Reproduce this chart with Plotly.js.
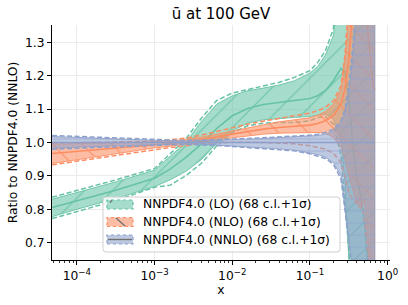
<!DOCTYPE html>
<html>
<head>
<meta charset="utf-8">
<script src="https://cdn.plot.ly/plotly-3.0.1.min.js"></script>
<style>
html,body{margin:0;padding:0;background:#fff;}
#chart{width:408px;height:305px;}
</style>
</head>
<body>
<div id="chart"></div>
<script>
// ---- data ----
var xGrid = [4.8e-5, 1e-4, 3.16e-4, 1e-3, 1.58e-3, 2.51e-3, 3.98e-3, 6.31e-3, 1e-2, 1.58e-2, 2.51e-2, 3.98e-2, 6.31e-2, 0.1, 0.126, 0.158, 0.2, 0.251, 0.282, 0.316, 0.355, 0.398, 0.447, 0.501, 0.562, 0.631, 0.68];

var loCentral = [0.805, 0.825, 0.857, 0.893, 0.92, 0.955, 0.995, 1.042, 1.08, 1.102, 1.114, 1.12, 1.125, 1.132, 1.14, 1.155, 1.185, 1.222, 1.21, 1.13, 1.0, 0.9, 0.845, 0.77, 0.62, 0.5, 0.45];
var loUpper68 = [0.83, 0.85, 0.882, 0.917, 0.958, 1.0, 1.062, 1.115, 1.14, 1.155, 1.163, 1.172, 1.185, 1.208, 1.228, 1.262, 1.32, 1.55, 1.7, 1.8, 1.8, 1.8, 1.8, 1.8, 1.8, 1.8, 1.8];
var loLower68 = [0.778, 0.8, 0.832, 0.868, 0.888, 0.913, 0.948, 0.998, 1.035, 1.058, 1.068, 1.072, 1.075, 1.078, 1.082, 1.085, 1.07, 1.0, 0.88, 0.65, 0.5, 0.4, 0.4, 0.4, 0.4, 0.4, 0.4];
var loUpper1s = [0.836, 0.856, 0.888, 0.922, 0.965, 1.01, 1.072, 1.126, 1.148, 1.158, 1.168, 1.18, 1.195, 1.215, 1.24, 1.275, 1.34, 1.6, 1.8, 1.8, 1.8, 1.8, 1.8, 1.8, 1.8, 1.8, 1.8];
var loLower1s = [0.772, 0.793, 0.826, 0.866, 0.872, 0.9, 0.937, 0.99, 1.03, 1.05, 1.058, 1.06, 1.06, 1.065, 1.075, 1.078, 1.055, 0.96, 0.8, 0.6, 0.5, 0.4, 0.4, 0.4, 0.4, 0.4, 0.4];

var nloCentral = [0.967, 0.973, 0.983, 0.993, 0.997, 1.002, 1.008, 1.016, 1.025, 1.033, 1.04, 1.045, 1.048, 1.052, 1.057, 1.065, 1.08, 1.115, 1.16, 1.25, 1.4, 1.55, 1.6, 1.48, 1.32, 1.2, 1.157];
var nloUpper68 = [0.995, 0.996, 0.999, 1.002, 1.005, 1.009, 1.016, 1.025, 1.035, 1.045, 1.054, 1.062, 1.068, 1.074, 1.082, 1.093, 1.115, 1.16, 1.25, 1.37, 1.6, 1.8, 1.8, 1.8, 1.8, 1.8, 1.8];
var nloLower68 = [0.937, 0.948, 0.966, 0.984, 0.989, 0.995, 1.0, 1.007, 1.014, 1.02, 1.025, 1.028, 1.03, 1.03, 1.03, 1.028, 1.015, 0.985, 0.95, 0.9, 0.86, 0.82, 0.8, 0.83, 0.7, 0.5, 0.4];
var nloUpper1s = [0.998, 0.999, 1.001, 1.004, 1.008, 1.013, 1.022, 1.033, 1.045, 1.055, 1.064, 1.072, 1.08, 1.088, 1.095, 1.105, 1.125, 1.17, 1.26, 1.38, 1.6, 1.8, 1.8, 1.8, 1.8, 1.8, 1.8];
var nloLower1s = [0.933, 0.944, 0.962, 0.98, 0.985, 0.99, 0.998, 1.0, 1.001, 1.001, 1.0, 0.999, 0.996, 0.99, 0.986, 0.98, 0.968, 0.94, 0.9, 0.85, 0.83, 0.818, 0.835, 0.77, 0.66, 0.5, 0.4];

var nnloCentral = [1, 1, 1, 1, 1, 1, 1, 1, 1, 1, 1, 1, 1, 1, 1, 1, 1, 1, 1, 1, 1, 1, 1, 1, 1, 1, 1];
var nnloUpper68 = [1.018, 1.015, 1.01, 1.006, 1.005, 1.004, 1.005, 1.006, 1.008, 1.01, 1.012, 1.014, 1.016, 1.019, 1.021, 1.025, 1.035, 1.06, 1.09, 1.15, 1.25, 1.4, 1.8, 1.8, 1.8, 1.8, 1.8];
var nnloLower68 = [0.983, 0.986, 0.99, 0.994, 0.995, 0.996, 0.995, 0.993, 0.99, 0.987, 0.984, 0.981, 0.977, 0.969, 0.964, 0.956, 0.94, 0.9, 0.81, 0.71, 0.62, 0.5, 0.3, 0.3, 0.3, 0.3, 0.3];
var nnloUpper1s = [1.021, 1.018, 1.013, 1.008, 1.007, 1.006, 1.007, 1.008, 1.01, 1.012, 1.014, 1.016, 1.019, 1.022, 1.025, 1.03, 1.04, 1.065, 1.1, 1.17, 1.28, 1.45, 1.8, 1.8, 1.8, 1.8, 1.8];
var nnloLower1s = [0.98, 0.983, 0.987, 0.992, 0.993, 0.994, 0.993, 0.991, 0.988, 0.985, 0.982, 0.979, 0.975, 0.966, 0.96, 0.952, 0.935, 0.89, 0.8, 0.7, 0.6, 0.48, 0.3, 0.3, 0.3, 0.3, 0.3];

var seriesNames = ["NNPDF4.0 (LO) (68 c.l.+1σ)", "NNPDF4.0 (NLO) (68 c.l.+1σ)", "NNPDF4.0 (NNLO) (68 c.l.+1σ)"];
var xTickVals = [1e-4, 1e-3, 1e-2, 1e-1, 1];
var xTickText = ["10<sup>−4</sup>", "10<sup>−3</sup>", "10<sup>−2</sup>", "10<sup>−1</sup>", "10<sup>0</sup>"];
var yTickVals = [0.7, 0.8, 0.9, 1.0, 1.1, 1.2, 1.3];

// ---- styling ----
var colors = ["#66c2a5", "#fc8d62", "#8da0cb"];
var fills = ["rgba(102,194,165,0.58)", "rgba(252,141,98,0.58)", "rgba(141,160,203,0.58)"];
var hatches = ["/", "\\", "-"];
var hatchSize = [20, 21, 12];
var FONT = "DejaVu Sans, sans-serif";
var FS = 12.3;
var DASH = "5px,2.5px";

var sets = [
  {c: loCentral, u: loUpper68, l: loLower68, u1: loUpper1s, l1: loLower1s},
  {c: nloCentral, u: nloUpper68, l: nloLower68, u1: nloUpper1s, l1: nloLower1s},
  {c: nnloCentral, u: nnloUpper68, l: nnloLower68, u1: nnloUpper1s, l1: nnloLower1s}
];

var traces = [];
sets.forEach(function(s, i) {
  var xr = xGrid.slice().reverse();
  traces.push({
    type: "scatter", mode: "lines",
    x: xGrid.concat(xr), y: s.u.concat(s.l.slice().reverse()),
    fill: "toself", fillcolor: fills[i],
    fillpattern: {shape: hatches[i], fgcolor: colors[i], bgcolor: fills[i], size: hatchSize[i], solidity: 0.05, fgopacity: 1},
    line: {color: colors[i], width: 0.9},
    hoverinfo: "skip", showlegend: false
  });
  traces.push({
    type: "scatter", mode: "lines", x: xGrid, y: s.c,
    line: {color: colors[i], width: 1.6}, hoverinfo: "skip", showlegend: false
  });
  traces.push({
    type: "scatter", mode: "lines", x: xGrid, y: s.u1,
    line: {color: colors[i], width: 1.5, dash: DASH}, hoverinfo: "skip", showlegend: false
  });
  traces.push({
    type: "scatter", mode: "lines", x: xGrid, y: s.l1,
    line: {color: colors[i], width: 1.5, dash: DASH}, hoverinfo: "skip", showlegend: false
  });
});

// minor ticks on log axis
var minorVals = [];
[-5, -4, -3, -2, -1].forEach(function(e) {
  for (var k = 2; k <= 9; k++) minorVals.push(k * Math.pow(10, e));
});

// manual legend (pixel -> paper helpers)
var PL = 52, PR = 390, PT = 25, PB = 260;
function px(v) { return (v - PL) / (PR - PL); }
function py(v) { return (PB - v) / (PB - PT); }

var shapes = [];
var annotations = [];
(function() {
  var x0 = px(103), x1 = px(340), y0 = py(252), y1 = py(197);
  var rx = 3 / (PR - PL), ry = 3 / (PB - PT);
  var path = "M" + (x0 + rx) + "," + y1 +
    " L" + (x1 - rx) + "," + y1 + " Q" + x1 + "," + y1 + " " + x1 + "," + (y1 - ry) +
    " L" + x1 + "," + (y0 + ry) + " Q" + x1 + "," + y0 + " " + (x1 - rx) + "," + y0 +
    " L" + (x0 + rx) + "," + y0 + " Q" + x0 + "," + y0 + " " + x0 + "," + (y0 + ry) +
    " L" + x0 + "," + (y1 - ry) + " Q" + x0 + "," + y1 + " " + (x0 + rx) + "," + y1 + " Z";
  shapes.push({type: "path", xref: "paper", yref: "paper", path: path,
    fillcolor: "rgba(255,255,255,0.85)", line: {color: "#d0d0d0", width: 1}, layer: "above"});
})();
var rowY = [204.5, 222, 239.5];
rowY.forEach(function(cy, i) {
  shapes.push({type: "rect", xref: "paper", yref: "paper",
    x0: px(107), x1: px(133), y0: py(cy + 4.5), y1: py(cy - 4.5),
    fillcolor: fills[i], line: {color: colors[i], width: 1.2, dash: "dot"}, layer: "above"});
  var hl;
  if (i === 0) hl = {x0: px(110), y0: py(cy - 2), x1: px(112), y1: py(cy - 4)};
  else if (i === 1) hl = {x0: px(116), y0: py(cy - 4), x1: px(125), y1: py(cy + 4)};
  else hl = {x0: px(108), y0: py(cy), x1: px(132), y1: py(cy)};
  shapes.push({type: "line", xref: "paper", yref: "paper", x0: hl.x0, y0: hl.y0, x1: hl.x1, y1: hl.y1,
    line: {color: "#707070", width: 1.3}, layer: "above"});
  annotations.push({xref: "paper", yref: "paper", x: px(141), y: py(cy), xanchor: "left", yanchor: "middle",
    text: seriesNames[i], showarrow: false, font: {family: FONT, size: FS, color: "#000"}});
});

var layout = {
  width: 408, height: 305,
  margin: {l: PL, r: 408 - PR, t: PT, b: 305 - PB},
  paper_bgcolor: "#fff", plot_bgcolor: "#fff",
  showlegend: false,
  font: {family: FONT, size: FS, color: "#000"},
  title: {text: "ū at 100 GeV", font: {family: FONT, size: 15, color: "#000"},
    x: (PL + PR) / 2 / 408, xref: "container", xanchor: "center", y: 1 - 14 / 305, yref: "container", yanchor: "middle"},
  xaxis: {
    type: "log", range: [-4.32, 0.03],
    tickvals: xTickVals, ticktext: xTickText,
    ticks: "outside", ticklen: 4, tickwidth: 1, tickcolor: "#000",
    showline: true, linecolor: "#000", linewidth: 1, mirror: false,
    showgrid: true, gridcolor: "#ebebeb", gridwidth: 1, zeroline: false,
    minor: {tickvals: minorVals, ticks: "outside", ticklen: 2, tickwidth: 0.8, tickcolor: "#000", showgrid: false},
    tickfont: {family: FONT, size: FS, color: "#000"},
    title: {text: "x", font: {family: FONT, size: FS, color: "#000"}, standoff: 3}
  },
  yaxis: {
    range: [0.648, 1.352],
    tickvals: yTickVals, tickformat: ".1f",
    ticks: "outside", ticklen: 4, tickwidth: 1, tickcolor: "#000",
    showline: true, linecolor: "#000", linewidth: 1, mirror: false,
    showgrid: true, gridcolor: "#ebebeb", gridwidth: 1, zeroline: false,
    tickfont: {family: FONT, size: FS, color: "#000"},
    title: {text: "Ratio to NNPDF4.0 (NNLO)", font: {family: FONT, size: FS, color: "#000"}, standoff: 4}
  },
  shapes: shapes,
  annotations: annotations
};

Plotly.newPlot("chart", traces, layout, {displayModeBar: false, staticPlot: true});
</script>
</body>
</html>
